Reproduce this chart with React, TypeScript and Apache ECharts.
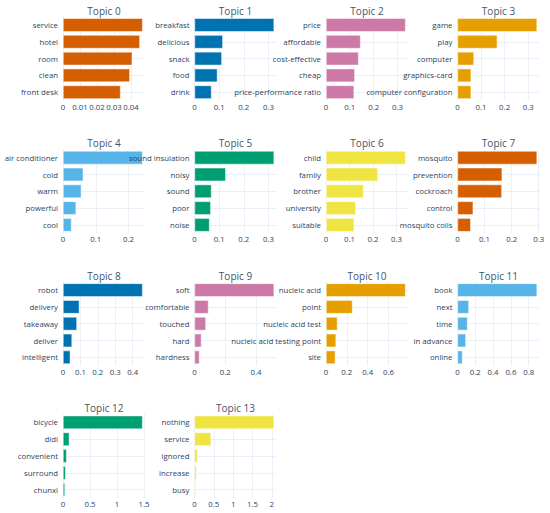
import React, { useEffect, useRef } from "react";
import * as echarts from "echarts";

const topicTitles = [
  "Topic 0", "Topic 1", "Topic 2", "Topic 3", "Topic 4", "Topic 5", "Topic 6",
  "Topic 7", "Topic 8", "Topic 9", "Topic 10", "Topic 11", "Topic 12", "Topic 13",
];

const topic0Words = ["service", "hotel", "room", "clean", "front desk"];
const topic0Values = [0.0469, 0.0453, 0.0408, 0.0394, 0.0339];
const topic1Words = ["breakfast", "delicious", "snack", "food", "drink"];
const topic1Values = [0.323, 0.115, 0.111, 0.093, 0.069];
const topic2Words = ["price", "affordable", "cost-effective", "cheap", "price-performance ratio"];
const topic2Values = [0.334, 0.145, 0.137, 0.121, 0.118];
const topic3Words = ["game", "play", "computer", "graphics-card", "computer configuration"];
const topic3Values = [0.338, 0.169, 0.07, 0.058, 0.058];
const topic4Words = ["air conditioner", "cold", "warm", "powerful", "cool"];
const topic4Values = [0.243, 0.062, 0.056, 0.04, 0.026];
const topic5Words = ["sound insulation", "noisy", "sound", "poor", "noise"];
const topic5Values = [0.323, 0.127, 0.069, 0.066, 0.061];
const topic6Words = ["child", "family", "brother", "university", "suitable"];
const topic6Values = [0.339, 0.221, 0.16, 0.127, 0.12];
const topic7Words = ["mosquito", "prevention", "cockroach", "control", "mosquito coils"];
const topic7Values = [0.294, 0.165, 0.164, 0.058, 0.049];
const topic8Words = ["robot", "delivery", "takeaway", "deliver", "intelligent"];
const topic8Values = [0.457, 0.094, 0.08, 0.052, 0.042];
const topic9Words = ["soft", "comfortable", "touched", "hard", "hardness"];
const topic9Values = [0.517, 0.091, 0.074, 0.045, 0.032];
const topic10Words = ["nucleic acid", "point", "nucleic acid test", "nucleic acid testing point", "site"];
const topic10Values = [0.765, 0.255, 0.11, 0.097, 0.09];
const topic11Words = ["book", "next", "time", "in advance", "online"];
const topic11Values = [0.895, 0.128, 0.113, 0.094, 0.056];
const topic12Words = ["bicycle", "didi", "convenient", "surround", "chunxi"];
const topic12Values = [1.475, 0.117, 0.068, 0.049, 0.037];
const topic13Words = ["nothing", "service", "ignored", "increase", "busy"];
const topic13Values = [2.06, 0.43, 0.078, 0.052, 0.034];

const topicWords = [
  topic0Words, topic1Words, topic2Words, topic3Words, topic4Words, topic5Words, topic6Words,
  topic7Words, topic8Words, topic9Words, topic10Words, topic11Words, topic12Words, topic13Words,
];
const topicValues = [
  topic0Values, topic1Values, topic2Values, topic3Values, topic4Values, topic5Values, topic6Values,
  topic7Values, topic8Values, topic9Values, topic10Values, topic11Values, topic12Values, topic13Values,
];
const tickSteps = [0.01, 0.1, 0.1, 0.1, 0.1, 0.1, 0.1, 0.1, 0.1, 0.2, 0.2, 0.2, 0.5, 0.5];

const palette = ["#D55E00", "#0072B2", "#CC79A7", "#E69F00", "#56B4E9", "#009E73", "#F0E442"];

const colLefts = [63, 194.5, 326, 457.5];
const rowTops = [16.6, 149.3, 281.7, 414];
const plotW = 82;
const plotH = 84;
const font = "'Open Sans', 'DejaVu Sans', Arial, sans-serif";
const textColor = "#2a3f5f";
const gridColor = "#EBF0F8";

export default function App() {
  const ref = useRef<HTMLDivElement>(null);

  useEffect(() => {
    if (!ref.current) return;
    const chart = echarts.init(ref.current, undefined, { renderer: "svg" });

    const grids: any[] = [];
    const xAxes: any[] = [];
    const yAxes: any[] = [];
    const series: any[] = [];
    const graphics: any[] = [];

    topicTitles.forEach((title, i) => {
      const col = i % 4;
      const row = Math.floor(i / 4);
      const left = colLefts[col];
      const top = rowTops[row];
      const step = tickSteps[i];
      const maxV = Math.max(...topicValues[i]) * 1.03;

      grids.push({ left, top, width: plotW, height: plotH, containLabel: false });
      xAxes.push({
        type: "value",
        gridIndex: i,
        min: 0,
        max: maxV,
        interval: step,
        axisLine: { show: false },
        axisTick: { show: false },
        splitLine: {
          show: true,
          showMaxLine: false,
          lineStyle: { color: gridColor, width: 1 },
        },
        axisLabel: {
          show: true,
          margin: 2,
          fontSize: 7.8,
          fontFamily: font,
          color: textColor,
          showMaxLabel: false,
          formatter: (v: number) => {
            const r = v / step;
            if (Math.abs(r - Math.round(r)) > 1e-6) return "";
            return String(parseFloat(v.toFixed(6)));
          },
        },
      });
      // label axis (drawn above bars, like plotly)
      yAxes.push({
        type: "category",
        gridIndex: i,
        inverse: true,
        data: topicWords[i],
        z: 5,
        axisLine: { show: false },
        axisTick: { show: false },
        splitLine: { show: false },
        axisLabel: {
          margin: 5,
          fontSize: 7.8,
          fontFamily: font,
          color: textColor,
        },
      });
      // grid-line axis (behind bars, lines at category centres)
      yAxes.push({
        type: "category",
        gridIndex: i,
        inverse: true,
        data: topicWords[i],
        z: 0,
        axisLine: { show: false },
        axisTick: { show: false },
        axisLabel: { show: false },
        splitLine: {
          show: true,
          alignWithLabel: true,
          lineStyle: { color: gridColor, width: 1 },
        },
      });
      series.push({
        type: "bar",
        xAxisIndex: i,
        yAxisIndex: i * 2,
        data: topicValues[i],
        barCategoryGap: "20%",
        itemStyle: {
          color: palette[i % palette.length],
          borderColor: "#ffffff",
          borderWidth: 0.5,
        },
        silent: true,
      });
      graphics.push({
        type: "text",
        x: left + plotW / 2,
        y: top - 6,
        style: {
          text: title,
          align: "center",
          verticalAlign: "middle",
          fontSize: 10,
          fontFamily: font,
          fill: "#44546a",
        },
      });
    });

    chart.setOption({
      animation: false,
      backgroundColor: "#ffffff",
      grid: grids,
      xAxis: xAxes,
      yAxis: yAxes,
      series,
      graphic: graphics,
    });

    return () => {
      chart.dispose();
    };
  }, []);

  return (
    <div
      ref={ref}
      style={{ position: "absolute", left: 0, top: 0, width: 550, height: 513 }}
    />
  );
}
